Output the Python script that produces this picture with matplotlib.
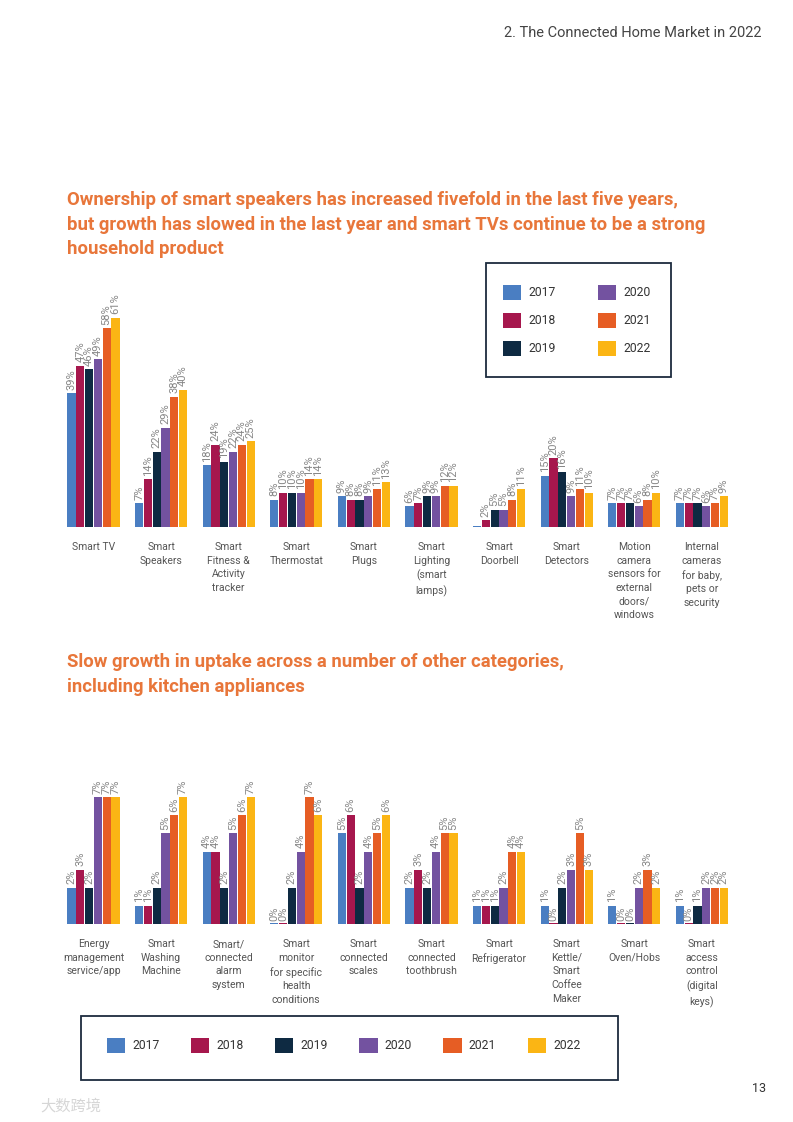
import matplotlib.pyplot as plt
import numpy as np
from matplotlib.patches import Patch, Rectangle

plt.rcParams["font.family"] = ["Roboto", "DejaVu Sans"]

# data
years = ["2017", "2018", "2019", "2020", "2021", "2022"]
colors = ["#4a7ec2", "#a6174d", "#0e2a42", "#7352a0", "#e65d24", "#fbb514"]

top_categories = [
    "Smart TV",
    "Smart\nSpeakers",
    "Smart\nFitness &\nActivity\ntracker",
    "Smart\nThermostat",
    "Smart\nPlugs",
    "Smart\nLighting\n(smart\nlamps)",
    "Smart\nDoorbell",
    "Smart\nDetectors",
    "Motion\ncamera\nsensors for\nexternal\ndoors/\nwindows",
    "Internal\ncameras\nfor baby,\npets or\nsecurity",
]
top_values = np.array([
    [39, 47, 46, 49, 58, 61],
    [7, 14, 22, 29, 38, 40],
    [18, 24, 19, 22, 24, 25],
    [8, 10, 10, 10, 14, 14],
    [9, 8, 8, 9, 11, 13],
    [6, 7, 9, 9, 12, 12],
    [0, 2, 5, 5, 8, 11],
    [15, 20, 16, 9, 11, 10],
    [7, 7, 7, 6, 8, 10],
    [7, 7, 7, 6, 7, 9],
])
# doorbell 2017 has a stub bar but no label in the report
top_no_label = [(6, 0)]

bottom_categories = [
    "Energy\nmanagement\nservice/app",
    "Smart\nWashing\nMachine",
    "Smart/\nconnected\nalarm\nsystem",
    "Smart\nmonitor\nfor specific\nhealth\nconditions",
    "Smart\nconnected\nscales",
    "Smart\nconnected\ntoothbrush",
    "Smart\nRefrigerator",
    "Smart\nKettle/\nSmart\nCoffee\nMaker",
    "Smart\nOven/Hobs",
    "Smart\naccess\ncontrol\n(digital\nkeys)",
]
bottom_values = np.array([
    [2, 3, 2, 7, 7, 7],
    [1, 1, 2, 5, 6, 7],
    [4, 4, 2, 5, 6, 7],
    [0, 0, 2, 4, 7, 6],
    [5, 6, 2, 4, 5, 6],
    [2, 3, 2, 4, 5, 5],
    [1, 1, 1, 2, 4, 4],
    [1, 0, 2, 3, 5, 3],
    [1, 0, 0, 2, 3, 2],
    [1, 0, 1, 2, 2, 2],
])

title_color = "#e8763a"
label_color = "#555555"
value_color = "#878787"

W, H = 793, 1122


def px_rect(x0, y0, x1, y1):
    # pixel box (top-left origin) -> figure fraction rect
    return [x0 / W, 1 - y1 / H, (x1 - x0) / W, (y1 - y0) / H]


def bar_group(ax, cats, vals, ymax, stub, no_label=()):
    n = len(years)
    w = 0.13
    x = np.arange(len(cats))
    for j in range(n):
        v = vals[:, j]
        ax.bar(x + (j - (n - 1) / 2) * w, np.maximum(v, stub), width=w * 0.92,
               color=colors[j], linewidth=0)
        for i, val in enumerate(v):
            if (i, j) in no_label:
                continue
            ax.annotate(f"{val}%", (x[i] + (j - (n - 1) / 2) * w, val),
                        xytext=(0, 2.5), textcoords="offset points",
                        rotation=90, ha="center", va="bottom",
                        fontsize=8, color=value_color)
    ax.set_xlim(-0.5, len(cats) - 0.5)
    ax.set_ylim(0, ymax)
    ax.set_xticks(x)
    ax.set_xticklabels(cats, fontsize=7.5, color=label_color)
    for t in ax.get_xticklabels():
        t.set_linespacing(1.45)
    ax.tick_params(axis="x", length=0, pad=11)
    ax.set_yticks([])
    for s in ax.spines.values():
        s.set_visible(False)


def box_legend(fig, rect_px, anchor_px, ncol, **kw):
    handles = [Patch(facecolor=c, edgecolor="none") for c in colors]
    fig.legend(handles, years, ncol=ncol, loc="upper left",
               bbox_to_anchor=(anchor_px[0] / W, 1 - anchor_px[1] / H),
               frameon=False, fontsize=8.7, borderpad=0, borderaxespad=0,
               handlelength=1.5, handleheight=1.5, handletextpad=0.6,
               labelcolor="#333333", **kw)
    x0, y0, x1, y1 = rect_px
    fig.add_artist(Rectangle((x0 / W, 1 - y1 / H), (x1 - x0) / W, (y1 - y0) / H,
                             transform=fig.transFigure, fill=False,
                             edgecolor="#1c2b3e", linewidth=1.3))


fig = plt.figure(figsize=(7.93, 11.22), dpi=100)

# header, titles, footer
fig.text(762 / W, 1 - 33 / H, "2. The Connected Home Market in 2022",
         ha="right", va="center", fontsize=10.5, color="#444444")
fig.text(67 / W, 1 - 191 / H,
         "Ownership of smart speakers has increased fivefold in the last five years,\n"
         "but growth has slowed in the last year and smart TVs continue to be a strong\n"
         "household product",
         ha="left", va="top", fontsize=13.3, fontweight="bold", color=title_color,
         linespacing=1.47)
fig.text(67 / W, 1 - 653 / H,
         "Slow growth in uptake across a number of other categories,\n"
         "including kitchen appliances",
         ha="left", va="top", fontsize=13.3, fontweight="bold", color=title_color,
         linespacing=1.47)
fig.text(766 / W, 1 - 1089 / H, "13", ha="right", va="center",
         fontsize=9, color="#333333")
fig.text(40 / W, 1 - 1106 / H, "大数跨境", ha="left", va="center", fontsize=11,
         color="#d6d6d6", family=["Noto Sans CJK SC", "DejaVu Sans"])

# top chart
ax1 = fig.add_axes(px_rect(59.7, 287, 735.7, 527))
bar_group(ax1, top_categories, top_values, 70, 0.4, top_no_label)
box_legend(fig, (486, 263, 671, 377), (503, 285), 2,
           labelspacing=1.1, columnspacing=3.5)

# bottom chart
ax2 = fig.add_axes(px_rect(59.7, 761, 735.7, 924))
bar_group(ax2, bottom_categories, bottom_values, 9, 0.08)
box_legend(fig, (81, 1016, 618, 1080), (107, 1038), 6,
           columnspacing=2.6)

fig.savefig("out.png", dpi=100)
